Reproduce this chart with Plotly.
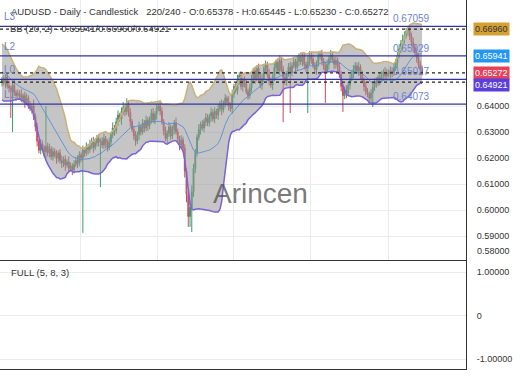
import pandas as pd
import plotly.graph_objects as go

# ---------------- data ----------------
PRE_CLOSES = [0.6570, 0.6585, 0.6600, 0.6612, 0.6598, 0.6580, 0.6590, 0.6565, 0.6550, 0.6540,
              0.6525, 0.6510, 0.6490, 0.6470, 0.6480, 0.6455, 0.6440, 0.6465, 0.6490]

CLOSES = [
    0.6500, 0.6488, 0.6512, 0.6478, 0.6470, 0.6462, 0.6480, 0.6452, 0.6440, 0.6448,
    0.6445, 0.6425, 0.6440, 0.6415, 0.6430, 0.6405, 0.6390, 0.6400, 0.6360, 0.6320,
    0.6265, 0.6230, 0.6255, 0.6240, 0.6225, 0.6245, 0.6220, 0.6235, 0.6205, 0.6225,
    0.6212, 0.6198, 0.6220, 0.6190, 0.6180, 0.6195, 0.6173, 0.6185, 0.6160, 0.6170,
    0.6154, 0.6175, 0.6190, 0.6180, 0.6212, 0.6200, 0.6230, 0.6218, 0.6245, 0.6232,
    0.6250, 0.6265, 0.6240, 0.6258, 0.6275, 0.6262, 0.6265, 0.6250, 0.6275, 0.6258,
    0.6240, 0.6262, 0.6290, 0.6315, 0.6305, 0.6340, 0.6365, 0.6350, 0.6380, 0.6395,
    0.6378, 0.6405, 0.6375, 0.6340, 0.6310, 0.6285, 0.6265, 0.6290, 0.6320, 0.6300,
    0.6335, 0.6315, 0.6345, 0.6325, 0.6350, 0.6372, 0.6345, 0.6368, 0.6392, 0.6400,
    0.6380, 0.6340, 0.6305, 0.6275, 0.6295, 0.6320, 0.6285, 0.6310, 0.6335, 0.6300,
    0.6275, 0.6250, 0.6270, 0.6238, 0.6150, 0.6060, 0.5975, 0.6010, 0.6070, 0.6160,
    0.6220, 0.6280, 0.6310, 0.6330, 0.6315, 0.6340, 0.6355, 0.6335, 0.6360, 0.6375,
    0.6350, 0.6380, 0.6365, 0.6390, 0.6405, 0.6385, 0.6410, 0.6430, 0.6415, 0.6400,
    0.6390, 0.6445, 0.6475, 0.6460, 0.6500, 0.6518, 0.6475, 0.6500, 0.6485, 0.6455,
    0.6440, 0.6470, 0.6500, 0.6535, 0.6505, 0.6545, 0.6510, 0.6480, 0.6505, 0.6545,
    0.6560, 0.6520, 0.6495, 0.6480, 0.6510, 0.6548, 0.6568, 0.6535, 0.6575, 0.6540,
    0.6510, 0.6495, 0.6525, 0.6550, 0.6530, 0.6555, 0.6570, 0.6548, 0.6572, 0.6588,
    0.6570, 0.6590, 0.6560, 0.6545, 0.6570, 0.6595, 0.6580, 0.6555, 0.6540, 0.6565,
    0.6590, 0.6600, 0.6575, 0.6555, 0.6535, 0.6560, 0.6580, 0.6595, 0.6578, 0.6560,
    0.6575, 0.6550, 0.6520, 0.6475, 0.6440, 0.6460, 0.6450, 0.6480, 0.6505, 0.6525,
    0.6540, 0.6555, 0.6535, 0.6550, 0.6520, 0.6498, 0.6475, 0.6455, 0.6445, 0.6430,
    0.6450, 0.6472, 0.6495, 0.6488, 0.6510, 0.6500, 0.6520, 0.6530, 0.6515, 0.6528,
    0.6522, 0.6535, 0.6530, 0.6545, 0.6565, 0.6595, 0.6620, 0.6640, 0.6655, 0.6672,
    0.6688, 0.6690, 0.6668, 0.6645, 0.6625, 0.6605, 0.6585, 0.6560, 0.6540, 0.65272,
]

# wick lengths above max(open, close) / below min(open, close), in pips
UP_WICK_PIPS = [
    12, 18, 10, 15, 20, 8, 14, 22, 10, 16,
    12, 20, 9, 15, 18, 11, 14, 10, 25, 12,
    15, 10, 18, 12, 9, 155, 14, 20, 10, 16,
    12, 18, 9, 14, 20, 11, 15, 10, 22, 13,
    10, 16, 12, 20, 14, 9, 18, 12, 15, 10,
    20, 12, 16, 9, 14, 18, 11, 15, 20, 10,
    13, 17, 10, 22, 12, 15, 18, 9, 14, 20,
    11, 25, 12, 16, 10, 14, 18, 12, 20, 9,
    15, 11, 18, 13, 10, 16, 20, 12, 14, 9,
    22, 14, 10, 16, 12, 18, 9, 15, 11, 20,
    13, 10, 18, 12, 15, 10, 14, 20, 25, 18,
    15, 12, 20, 10, 16, 12, 18, 14, 10, 20,
    12, 15, 9, 18, 14, 20, 11, 16, 10, 22,
    13, 18, 10, 15, 20, 12, 16, 9, 14, 18,
    11, 15, 20, 12, 16, 10, 18, 14, 20, 12,
    15, 10, 22, 14, 12, 18, 10, 16, 20, 12,
    14, 18, 10, 15, 20, 12, 16, 11, 22, 14,
    18, 12, 15, 10, 20, 16, 12, 18, 14, 10,
    20, 13, 16, 10, 15, 18, 12, 20, 14, 10,
    16, 12, 18, 14, 10, 15, 20, 12, 16, 10,
    18, 14, 12, 20, 10, 16, 12, 18, 14, 10,
    15, 20, 12, 16, 10, 18, 14, 12, 20, 15,
    12, 18, 14, 20, 16, 12, 18, 14, 20, 15,
    12, 16, 20, 14, 18, 12, 15, 20, 14, 16,
]
DOWN_WICK_PIPS = [
    15, 10, 20, 12, 18, 108, 162, 14, 20, 12,
    18, 10, 15, 22, 12, 16, 10, 20, 14, 18,
    20, 12, 16, 10, 22, 26, 14, 18, 12, 16,
    10, 20, 14, 12, 18, 15, 22, 10, 16, 12,
    20, 14, 10, 18, 12, 16, 288, 14, 10, 18,
    12, 16, 20, 10, 14, 18, 174, 12, 16, 20,
    15, 10, 18, 14, 20, 12, 16, 10, 22, 14,
    18, 12, 16, 20, 10, 15, 18, 12, 20, 14,
    10, 16, 12, 20, 14, 18, 10, 15, 20, 12,
    16, 12, 18, 10, 22, 14, 16, 12, 18, 10,
    14, 20, 12, 16, 25, 30, 40, 40, 95, 20,
    18, 14, 12, 20, 10, 16, 18, 12, 14, 20,
    10, 16, 14, 18, 12, 20, 10, 16, 14, 18,
    12, 20, 14, 10, 16, 18, 12, 20, 14, 10,
    16, 12, 18, 14, 20, 10, 16, 12, 18, 14,
    20, 12, 16, 10, 18, 14, 20, 12, 16, 10,
    172, 14, 18, 12, 157, 16, 10, 20, 14, 18,
    12, 16, 20, 14, 172, 12, 18, 10, 16, 20,
    14, 12, 18, 16, 123, 10, 20, 14, 12, 18,
    16, 20, 12, 18, 63, 14, 20, 12, 16, 10,
    18, 14, 12, 20, 16, 10, 18, 14, 12, 20,
    16, 54, 14, 18, 12, 20, 10, 16, 14, 18,
    12, 16, 20, 14, 10, 18, 12, 16, 20, 14,
    12, 18, 14, 16, 20, 12, 18, 14, 16, 10,
]

LEVEL_NAMES = ["L3", "L2", "L0", "L1"]
LEVEL_VALUES = [0.67059, 0.65929, 0.65027, 0.64073]
BB_LAST = {"mid": 0.65941, "upper": 0.66960, "lower": 0.64921}
LAST_CLOSE = 0.65272
Y_TICKS = [0.59, 0.60, 0.61, 0.62, 0.63, 0.64]
STOCH_TICKS = [-1, 0, 1]
STOCH_TICKTEXT = ["-1.00000", "0", "1.00000"]
X_GRID = [44.4, 88.2, 131.5, 175.3, 219.7]

TITLE = ("AUDUSD - Daily - Candlestick\u00a0\u00a0\u00a0220/240 - O:0.65378 - H:0.65445"
         " - L:0.65230 - C:0.65272")
BB_TEXT = "BB (20, 2) - 0.65941/0.66960/0.64921"

assert len(CLOSES) == 240 and len(UP_WICK_PIPS) == 240 and len(DOWN_WICK_PIPS) == 240

# ---------------- derived series ----------------
all_close = pd.Series(PRE_CLOSES + CLOSES)
mid = all_close.rolling(20).mean()
sd = all_close.rolling(20).std(ddof=0)
n_pre = len(PRE_CLOSES)
mid_v = mid.iloc[n_pre:].tolist()
up_v = (mid + 2 * sd).iloc[n_pre:].tolist()
lo_v = (mid - 2 * sd).iloc[n_pre:].tolist()

opens = all_close.iloc[n_pre - 1:-1].tolist()
highs = [max(o, c) + u / 10000 for o, c, u in zip(opens, CLOSES, UP_WICK_PIPS)]
lows = [min(o, c) - d / 10000 for o, c, d in zip(opens, CLOSES, DOWN_WICK_PIPS)]
idx = list(range(len(CLOSES)))

# ---------------- figure ----------------
FONT = "Liberation Sans, Arial, sans-serif"
INC = "#3a9a6a"
DEC = "#cc4a5c"
W, H = 520, 390
ML, MR, MT, MB = 0, 54, 0, 21
PW, PH = W - ML - MR, H - MT - MB
split = (PH - 260) / PH


def px(x):
    return x / PW


def py(y):
    return (PH - y) / PH


fig = go.Figure()
fig.add_trace(go.Scatter(x=idx, y=up_v, mode="lines", line=dict(color="#c8b276", width=1.5),
                         hoverinfo="skip", showlegend=False))
fig.add_trace(go.Scatter(x=idx, y=lo_v, mode="lines", line=dict(color="#7a62d8", width=1.5),
                         fill="tonexty", fillcolor="rgba(150,150,150,0.55)",
                         hoverinfo="skip", showlegend=False))
fig.add_trace(go.Scatter(x=idx, y=mid_v, mode="lines", line=dict(color="rgba(80,140,220,0.85)", width=1),
                         hoverinfo="skip", showlegend=False))
fig.add_trace(go.Candlestick(
    x=idx, open=opens, high=highs, low=lows, close=CLOSES,
    increasing=dict(line=dict(color=INC, width=1), fillcolor=INC),
    decreasing=dict(line=dict(color=DEC, width=1), fillcolor=DEC),
    whiskerwidth=0, showlegend=False))
fig.add_trace(go.Scatter(x=[], y=[], xaxis="x2", yaxis="y2", showlegend=False))

shapes = []
for v in LEVEL_VALUES:
    shapes.append(dict(type="line", xref="x domain", x0=0, x1=1, yref="y", y0=v, y1=v,
                       line=dict(color="#33339f", width=1.3)))
for v in [BB_LAST["upper"], LAST_CLOSE, BB_LAST["lower"]]:
    shapes.append(dict(type="line", xref="x domain", x0=0, x1=1, yref="y", y0=v, y1=v,
                       line=dict(color="#222222", width=1.2, dash="3px,3px")))

ann = []
ann.append(dict(text=TITLE, xref="paper", yref="paper", x=px(9), y=py(12), xanchor="left",
                yanchor="middle", showarrow=False, font=dict(family=FONT, size=9.5, color="#333333")))
ann.append(dict(text=BB_TEXT, xref="paper", yref="paper", x=px(8), y=py(29), xanchor="left",
                yanchor="middle", showarrow=False, font=dict(family=FONT, size=9.5, color="#333333")))
for name, v in zip(LEVEL_NAMES, LEVEL_VALUES):
    ann.append(dict(text=name, xref="paper", yref="y", x=px(2), y=v, xanchor="left",
                    yanchor="bottom", yshift=2, showarrow=False,
                    font=dict(family=FONT, size=10, color="#7080c8")))
    ann.append(dict(text=f"{v:.5f}", xref="paper", yref="y", x=px(391), y=v, xanchor="left",
                    yanchor="bottom", yshift=0, showarrow=False,
                    font=dict(family=FONT, size=10, color="#6f82d4")))

boxes = [(BB_LAST["upper"], "#d4a033", "#333333", 0),
         (BB_LAST["mid"], "#2196f3", "#ffffff", 0),
         (LAST_CLOSE, "#e6405a", "#ffffff", 0),
         (BB_LAST["lower"], "#5a3fdc", "#ffffff", -3)]
for v, bg, fc, sh in boxes:
    ann.append(dict(text=f"{v:.5f}", xref="paper", yref="y", x=px(473), y=v, xanchor="left",
                    yanchor="middle", yshift=sh, showarrow=False, bgcolor=bg, borderpad=1,
                    font=dict(family=FONT, size=9, color=fc)))

ann.append(dict(text="0.58000", xref="paper", yref="paper", x=px(475), y=py(251), xanchor="left",
                yanchor="middle", showarrow=False, font=dict(family=FONT, size=9, color="#333333")))
ann.append(dict(text="Arincen", xref="paper", yref="paper", x=px(260), y=py(193), xanchor="center",
                yanchor="middle", showarrow=False, font=dict(family=FONT, size=28, color="rgba(85,85,85,0.8)")))
ann.append(dict(text="FULL (5, 8, 3)", xref="paper", yref="paper", x=px(9), y=py(273), xanchor="left",
                yanchor="middle", showarrow=False, font=dict(family=FONT, size=9.5, color="#333333")))

XMIN, XMAX = -1.14, 264.04
fig.update_layout(
    width=W, height=H, margin=dict(l=ML, r=MR, t=MT, b=MB),
    paper_bgcolor="white", plot_bgcolor="white", showlegend=False,
    font=dict(family=FONT, size=9, color="#333333"),
    shapes=shapes, annotations=ann,
    xaxis=dict(domain=[0, 1], anchor="y", range=[XMIN, XMAX], tickvals=X_GRID, showticklabels=False,
               showgrid=True, gridcolor="#ebebeb", gridwidth=1, zeroline=False, ticks="",
               showline=True, linecolor="#333333", linewidth=1, rangeslider=dict(visible=False)),
    yaxis=dict(domain=[split, 1], anchor="x", range=[0.58077, 0.68077], side="right",
               tickvals=Y_TICKS, ticktext=[f"{v:.5f}" for v in Y_TICKS], ticks="",
               ticklabelstandoff=8, showgrid=True, gridcolor="#ebebeb", zeroline=False,
               showline=True, linecolor="#333333", linewidth=1,
               tickfont=dict(family=FONT, size=9, color="#333333")),
    xaxis2=dict(domain=[0, 1], anchor="y2", range=[XMIN, XMAX], showticklabels=False, showgrid=False,
                zeroline=False, ticks="", showline=True, linecolor="#333333", linewidth=1),
    yaxis2=dict(domain=[0, split], anchor="x2", range=[-1.23, 1.276], side="right",
                tickvals=STOCH_TICKS, ticktext=STOCH_TICKTEXT, ticks="", ticklabelstandoff=8,
                showgrid=True, gridcolor="#ebebeb", zeroline=False,
                showline=True, linecolor="#333333", linewidth=1,
                tickfont=dict(family=FONT, size=9, color="#333333")),
)

fig.write_html("out.html", config={"displayModeBar": False},
               post_script="document.body.style.margin='0px';")
